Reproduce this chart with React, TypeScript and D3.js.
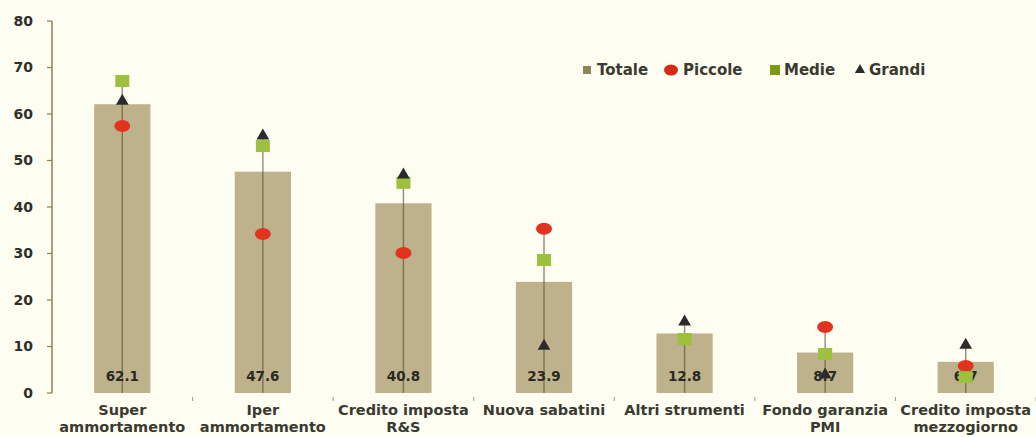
import React from "react";
import * as d3 from "d3";

const categories = [
  ["Super", "ammortamento"],
  ["Iper", "ammortamento"],
  ["Credito imposta", "R&S"],
  ["Nuova sabatini"],
  ["Altri strumenti"],
  ["Fondo garanzia", "PMI"],
  ["Credito imposta", "mezzogiorno"],
];
const totale = [62.1, 47.6, 40.8, 23.9, 12.8, 8.7, 6.7];
// Piccole for "Altri strumenti" is hidden behind the Medie marker in the picture
const piccole: (number | null)[] = [57.4, 34.2, 30.1, 35.3, null, 14.2, 5.8];
const medie = [67.1, 53.1, 45.2, 28.6, 11.6, 8.4, 3.4];
const grandi = [62.8, 55.3, 46.9, 10.1, 15.3, 3.9, 10.3];
const yTicks = [0, 10, 20, 30, 40, 50, 60, 70, 80];

const W = 1036;
const H = 437;
const margin = { left: 52, right: 0, top: 21, bottom: 44 };
const font = "'DejaVu Sans', Verdana, sans-serif";
const textColor = "#2f2f28";

export default function App() {
  const x = d3
    .scaleBand<number>()
    .domain(d3.range(categories.length))
    .range([margin.left, W - margin.right])
    .paddingInner(0.6)
    .paddingOuter(0.3);
  const y = d3.scaleLinear().domain([0, 80]).range([H - margin.bottom, margin.top]);
  const step = x.step();
  const cx = (i: number) => (x(i) as number) + x.bandwidth() / 2;
  const tri = d3.symbol().type(d3.symbolTriangle).size(70)() || "";

  return (
    <div style={{ position: "fixed", left: 0, top: 0 }}>
      <svg width={W} height={H} style={{ display: "block", background: "#fdfdf2" }}>
        {/* y axis */}
        <line x1={margin.left} x2={margin.left} y1={y(80)} y2={y(0)} stroke="#8c8150" strokeWidth={1.5} />
        {yTicks.map((t) => (
          <g key={t} transform={`translate(0,${y(t)})`}>
            <line x1={margin.left - 5} x2={margin.left} stroke="#8c8150" strokeWidth={1.2} />
            <text x={33} dy="0.35em" textAnchor="end" fontFamily={font} fontWeight="bold" fontSize={14} fill={textColor}>
              {t}
            </text>
          </g>
        ))}
        {/* x tick marks between categories */}
        {d3.range(1, categories.length + 1).map((i) => (
          <line
            key={i}
            x1={margin.left + step * i}
            x2={margin.left + step * i}
            y1={y(0) + 4}
            y2={y(0) + 8}
            stroke="#999"
            strokeWidth={1}
          />
        ))}
        {/* bars */}
        {totale.map((v, i) => (
          <rect key={i} x={x(i)} y={y(v)} width={x.bandwidth()} height={y(0) - y(v)} fill="#beb28c" />
        ))}
        {/* high-low lines */}
        {totale.map((_, i) => {
          const top = Math.max(piccole[i] ?? 0, medie[i], grandi[i]);
          return (
            <line
              key={i}
              x1={cx(i)}
              x2={cx(i)}
              y1={y(0)}
              y2={y(top)}
              stroke="#5e4f35"
              strokeOpacity={0.65}
              strokeWidth={1.4}
            />
          );
        })}
        {/* value labels */}
        {totale.map((v, i) => (
          <text
            key={i}
            x={cx(i)}
            y={y(0) - 12}
            textAnchor="middle"
            fontFamily={font}
            fontWeight="bold"
            fontSize={13.5}
            fill="#2a2a24"
          >
            {v.toFixed(1)}
          </text>
        ))}
        {/* markers */}
        {piccole.map((v, i) =>
          v == null ? null : <ellipse key={`p${i}`} cx={cx(i)} cy={y(v)} rx={8} ry={6} fill="#e2331f" />
        )}
        {medie.map((v, i) => (
          <rect key={`m${i}`} x={cx(i) - 7} y={y(v) - 6} width={14} height={12} fill="#9dc13c" />
        ))}
        {grandi.map((v, i) => (
          <path key={`g${i}`} d={tri} transform={`translate(${cx(i)},${y(v)})`} fill="#2b2b2b" />
        ))}
        {/* category labels */}
        {categories.map((lines, i) => (
          <text key={i} x={cx(i)} y={y(0) + 22} textAnchor="middle" fontFamily={font} fontWeight="bold" fontSize={14.5} fill="#3a3a30">
            {lines.map((l, j) => (
              <tspan key={j} x={cx(i)} dy={j === 0 ? 0 : 17}>
                {l}
              </tspan>
            ))}
          </text>
        ))}
        {/* legend */}
        <g fontFamily={font} fontWeight="bold" fontSize={15} fill="#3a3a30">
          <rect x={583} y={66} width={8} height={8} fill="#8e8455" />
          <text x={597} y={70} dy="0.35em">Totale</text>
          <ellipse cx={671} cy={70} rx={7} ry={5.5} fill="#d52a14" />
          <text x={683} y={70} dy="0.35em">Piccole</text>
          <rect x={770} y={65} width={10} height={10} fill="#7a9a12" />
          <text x={784} y={70} dy="0.35em">Medie</text>
          <path d={d3.symbol().type(d3.symbolTriangle).size(45)() || ""} transform="translate(860,70)" fill="#2b2b2b" />
          <text x={869} y={70} dy="0.35em">Grandi</text>
        </g>
      </svg>
    </div>
  );
}
